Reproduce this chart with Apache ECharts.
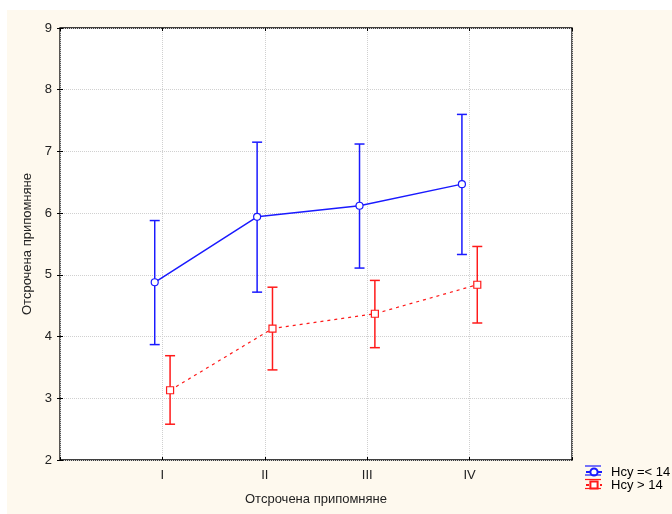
<!DOCTYPE html>
<html>
<head>
<meta charset="utf-8">
<script src="https://cdn.jsdelivr.net/npm/echarts@6/dist/echarts.min.js"></script>
<style>html,body{margin:0;padding:0;background:#fff}#c{width:672px;height:514px}</style>
</head>
<body>
<div id="c"></div>
<script>
var tickLabels = ['I', 'II', 'III', 'IV'];
var seriesNames = ['Нсу =< 14', 'Нсу > 14'];
var meanLow = [4.88, 5.94, 6.12, 6.47];      // Нсу =< 14
var errLowLo = [3.87, 4.72, 5.11, 5.33];
var errLowHi = [5.88, 7.15, 7.12, 7.60];
var meanHigh = [3.13, 4.13, 4.37, 4.84];     // Нсу > 14
var errHighLo = [2.58, 3.46, 3.82, 4.22];
var errHighHi = [3.69, 4.80, 4.91, 5.46];

var BLUE = '#1a1aff', RED = '#ff1a1a';
var off = 0.075;
function pts(vals, dx) { return vals.map(function (v, i) { return [i + 1 + dx, v]; }); }
function errs(lo, hi, dx) { return lo.map(function (v, i) { return [i + 1 + dx, v, hi[i]]; }); }
function errRender(color, w) {
  return function (params, api) {
    var x = api.value(0);
    var a = api.coord([x, api.value(1)]);
    var b = api.coord([x, api.value(2)]);
    var cw = 5;
    var st = { stroke: color, lineWidth: w };
    return { type: 'group', children: [
      { type: 'line', shape: { x1: a[0], y1: a[1], x2: b[0], y2: b[1] }, style: st },
      { type: 'line', shape: { x1: a[0] - cw, y1: a[1], x2: a[0] + cw, y2: a[1] }, style: st },
      { type: 'line', shape: { x1: b[0] - cw, y1: b[1], x2: b[0] + cw, y2: b[1] }, style: st }
    ]};
  };
}
function capLine(y, color) {
  return { type: 'line', silent: true, z: 100, shape: { x1: 585, y1: y, x2: 601, y2: y }, style: { stroke: color, lineWidth: 1.2 } };
}
var chart = echarts.init(document.getElementById('c'), null, { renderer: 'canvas' });
var font = 'Arial, "Liberation Sans", sans-serif';
var tickCfg = { show: true, inside: true, length: 3, lineStyle: { color: '#000' } };
chart.setOption({
  backgroundColor: '#ffffff',
  animation: false,
  textStyle: { fontFamily: font },
  graphic: [
    { type: 'rect', z: -10, silent: true, shape: { x: 7, y: 10, width: 665, height: 504 }, style: { fill: '#fef9ee' } },
    capLine(466, BLUE), capLine(475, BLUE), capLine(479.5, RED), capLine(488.5, RED)
  ],
  grid: { left: 60, top: 28, right: 100, bottom: 54, show: true, backgroundColor: '#ffffff', borderColor: '#000', borderWidth: 1.3 },
  legend: {
    left: 585, top: 465.5, padding: 0, orient: 'vertical', itemGap: 0, itemWidth: 16, itemHeight: 9,
    data: seriesNames,
    textStyle: { fontSize: 13, color: '#000', fontFamily: font, padding: [0, 0, 0, 4] }
  },
  xAxis: [{
    type: 'value', min: 0, max: 5, interval: 1,
    axisLine: { show: false },
    axisTick: tickCfg,
    splitLine: { show: true, lineStyle: { color: '#d0d0d0', type: [1, 1] } },
    axisLabel: { fontSize: 13, color: '#222', margin: 9, fontFamily: font,
      formatter: function (v) { return tickLabels[v - 1] || ''; } },
    name: 'Отсрочена припомняне', nameLocation: 'middle', nameGap: 33,
    nameTextStyle: { fontSize: 13, color: '#222', fontFamily: font }
  }, {
    type: 'value', position: 'top', min: 0, max: 5, interval: 1,
    axisLine: { show: false }, axisTick: tickCfg, splitLine: { show: false }, axisLabel: { show: false }
  }],
  yAxis: [{
    type: 'value', min: 2, max: 9, interval: 1,
    axisLine: { show: false },
    axisTick: tickCfg,
    splitLine: { show: true, lineStyle: { color: '#d0d0d0', type: [1, 1] } },
    axisLabel: { fontSize: 13, color: '#222', margin: 8, fontFamily: font },
    name: 'Отсрочена припомняне', nameLocation: 'middle', nameGap: 24,
    nameTextStyle: { fontSize: 13, color: '#222', fontFamily: font }
  }, {
    type: 'value', position: 'right', min: 2, max: 9, interval: 1,
    axisLine: { show: false }, axisTick: tickCfg, splitLine: { show: false }, axisLabel: { show: false }
  }],
  series: [
    { type: 'custom', name: seriesNames[0] + ' err', renderItem: errRender(BLUE, 1.5), data: errs(errLowLo, errLowHi, -off), encode: { x: 0, y: [1, 2] }, z: 2 },
    { type: 'custom', name: seriesNames[1] + ' err', renderItem: errRender(RED, 1.5), data: errs(errHighLo, errHighHi, off), encode: { x: 0, y: [1, 2] }, z: 2 },
    { type: 'line', name: seriesNames[0], data: pts(meanLow, -off), symbol: 'circle', symbolSize: 7,
      itemStyle: { color: '#fff', borderColor: BLUE, borderWidth: 1.2 }, lineStyle: { color: BLUE, width: 1.5 }, z: 3 },
    { type: 'line', name: seriesNames[1], data: pts(meanHigh, off), symbol: 'rect', symbolSize: 7,
      itemStyle: { color: '#fff', borderColor: RED, borderWidth: 1.2 }, lineStyle: { color: RED, width: 1.2, type: [3, 4] }, z: 3 }
  ]
});
</script>
</body>
</html>
